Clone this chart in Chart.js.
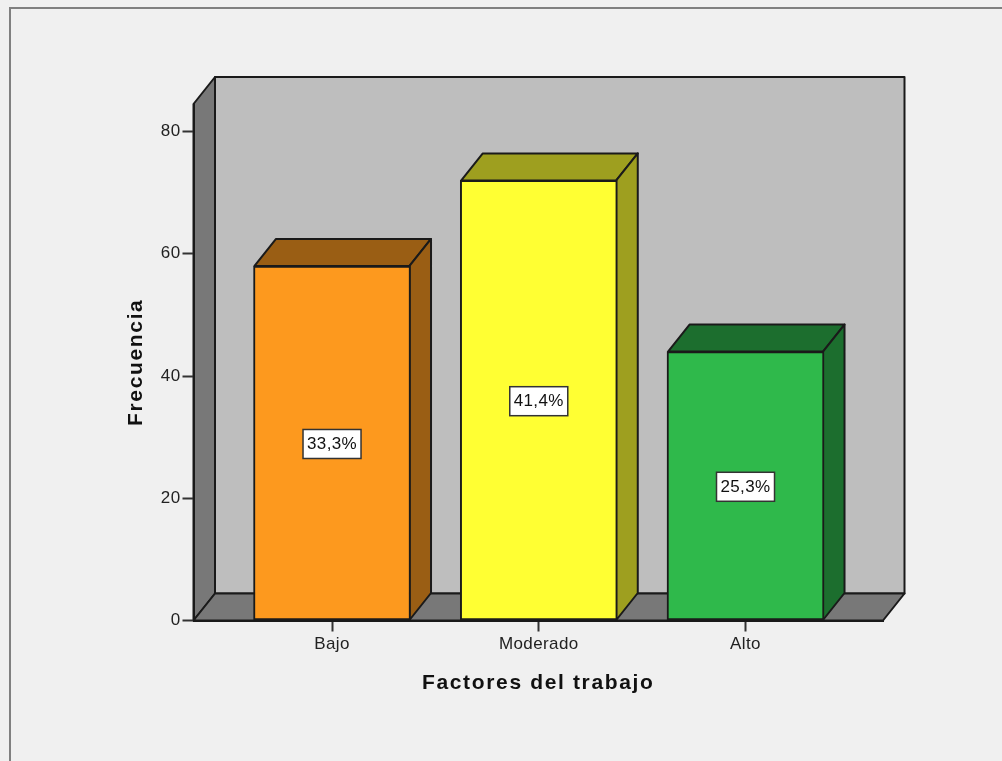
<!DOCTYPE html>
<html>
<head>
<meta charset="utf-8">
<style>
  html, body { margin: 0; padding: 0; background: #f0f0f0; overflow: hidden; }
  #frame { position: absolute; left: 9px; top: 7px; width: 1100px; height: 900px; border: 2px solid #808080; }
  canvas { position: absolute; left: 0; top: 0; }
</style>
<script src="https://cdn.jsdelivr.net/npm/chart.js@4/dist/chart.umd.js"></script>
</head>
<body>
<div id="frame"></div>
<canvas id="chart" width="1002" height="761"></canvas>
<script>
const categories = ["Bajo", "Moderado", "Alto"];
const frequencies = [58, 72, 44];
const percentLabels = ["33,3%", "41,4%", "25,3%"];
const yTicks = [0, 20, 40, 60, 80];

const frontColors = ["#fd991e", "#ffff33", "#2fb94b"];
const sideColors = ["#9a5e14", "#9e9f1f", "#1c6e2e"];
const FONT = '"Liberation Sans", Arial, sans-serif';
const LINE = "#1a1a1a";
const DEPTH_X = 21.5;
const DEPTH_Y = 27;
const TEXT_SPACING = "0.4px";
const TITLE_SPACING = "1.65px";

function poly(ctx, pts, fill) {
  ctx.beginPath();
  pts.forEach((p, i) => (i ? ctx.lineTo(p[0], p[1]) : ctx.moveTo(p[0], p[1])));
  ctx.closePath();
  ctx.fillStyle = fill;
  ctx.fill();
  ctx.stroke();
}

// axis titles in the picture are wider than the font, chart.js has no option for it
const spacedText = {
  id: "spacedText",
  afterLayout(chart) {
    const { ctx } = chart;
    ["x", "y"].forEach((id) => {
      const scale = chart.scales[id];
      const drawTitle = scale.drawTitle;
      scale.drawTitle = function () {
        ctx.letterSpacing = TITLE_SPACING;
        drawTitle.call(scale);
        ctx.letterSpacing = TEXT_SPACING;
      };
    });
  },
  beforeDraw(chart) {
    chart.ctx.letterSpacing = TEXT_SPACING;
  },
};

// back wall, side wall and floor of the 3D box
const walls = {
  id: "walls",
  beforeDraw(chart) {
    const { ctx, chartArea: a } = chart;
    const dx = DEPTH_X, dy = DEPTH_Y;
    ctx.save();
    ctx.strokeStyle = LINE;
    ctx.lineWidth = 2;
    ctx.lineJoin = "round";
    poly(ctx, [[a.left + dx, a.top - dy], [a.right + dx, a.top - dy], [a.right + dx, a.bottom - dy], [a.left + dx, a.bottom - dy]], "#bebebe");
    poly(ctx, [[a.left, a.top], [a.left + dx, a.top - dy], [a.left + dx, a.bottom - dy], [a.left, a.bottom]], "#787878");
    poly(ctx, [[a.left, a.bottom], [a.left + dx, a.bottom - dy], [a.right + dx, a.bottom - dy], [a.right, a.bottom]], "#787878");
    ctx.restore();
  },
};

// top and side faces of each bar, the front face is the real bar
const barFaces = {
  id: "barFaces",
  beforeDatasetsDraw(chart) {
    const { ctx } = chart;
    const dx = DEPTH_X, dy = DEPTH_Y;
    ctx.save();
    ctx.strokeStyle = LINE;
    ctx.lineWidth = 2;
    ctx.lineJoin = "round";
    chart.getDatasetMeta(0).data.forEach((bar, i) => {
      const l = bar.x - bar.width / 2 + 1, r = bar.x + bar.width / 2 - 1;
      poly(ctx, [[l, bar.y], [l + dx, bar.y - dy], [r + dx, bar.y - dy], [r, bar.y]], sideColors[i]);
      poly(ctx, [[r, bar.y], [r + dx, bar.y - dy], [r + dx, bar.base - dy], [r, bar.base]], sideColors[i]);
    });
    ctx.restore();
  },
};

// percentage boxes in the middle of the bars
const percentBoxes = {
  id: "percentBoxes",
  afterDatasetsDraw(chart) {
    const { ctx } = chart;
    ctx.save();
    ctx.font = "17px " + FONT;
    ctx.textAlign = "center";
    ctx.textBaseline = "middle";
    chart.getDatasetMeta(0).data.forEach((bar, i) => {
      const cy = (bar.y + bar.base) / 2 + 1;
      ctx.fillStyle = "#ffffff";
      ctx.strokeStyle = "#333333";
      ctx.lineWidth = 1.5;
      ctx.fillRect(bar.x - 29, cy - 14.5, 58, 29);
      ctx.strokeRect(bar.x - 29, cy - 14.5, 58, 29);
      ctx.fillStyle = "#111111";
      ctx.fillText(percentLabels[i], bar.x, cy + 0.5);
    });
    ctx.restore();
  },
};

new Chart(document.getElementById("chart"), {
  type: "bar",
  data: {
    datasets: [{
      label: "Frecuencia",
      data: frequencies.map((v, i) => ({ x: i, y: v })),
      backgroundColor: frontColors,
      borderColor: LINE,
      borderWidth: 2,
      borderSkipped: false,
      barThickness: 157,
    }],
  },
  plugins: [spacedText, walls, barFaces, percentBoxes],
  options: {
    responsive: false,
    animation: false,
    layout: { padding: { left: 124, top: 104, right: 119, bottom: 65 } },
    plugins: { legend: { display: false }, tooltip: { enabled: false } },
    scales: {
      x: {
        type: "linear",
        offset: false,
        min: -0.67,
        max: 2.665,
        afterBuildTicks: (scale) => { scale.ticks = categories.map((c, i) => ({ value: i })); },
        afterFit: (scale) => { scale.height = 75.5; },
        grid: { offset: false, drawOnChartArea: false, tickLength: 11, tickColor: "#333333", tickWidth: 2 },
        border: { color: LINE, width: 2 },
        ticks: { callback: (v) => categories[v], font: { size: 17, family: FONT }, color: "#222222", padding: 3, maxRotation: 0 },
        title: { display: true, text: "Factores del trabajo", font: { size: 21, weight: "bold", family: FONT }, color: "#111111", padding: 0 },
      },
      y: {
        min: 0,
        max: 84.5,
        afterBuildTicks: (scale) => { scale.ticks = yTicks.map((v) => ({ value: v })); },
        afterFit: (scale) => { scale.width = 69.5; },
        grid: { drawOnChartArea: false, tickLength: 11, tickColor: "#333333", tickWidth: 2 },
        border: { color: LINE, width: 2 },
        ticks: { font: { size: 17, family: FONT }, color: "#222222", padding: 2 },
        title: { display: true, text: "Frecuencia", font: { size: 21, weight: "bold", family: FONT }, color: "#111111", padding: 0 },
      },
    },
  },
});
</script>
</body>
</html>
